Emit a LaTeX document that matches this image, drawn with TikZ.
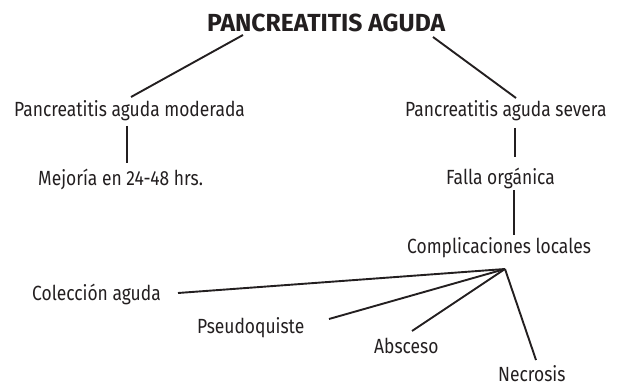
\documentclass[tikz,border=0pt]{standalone}
\usepackage{fontspec}
\setmainfont{Fira Sans}[FakeStretch=0.85]
\newfontfamily\ttlfont{Fira Sans}
\usetikzlibrary{calc}
\definecolor{ink}{HTML}{231F20}
\begin{document}
\begin{tikzpicture}[x=1pt,y=-1pt,
  lbl/.style={inner sep=0pt,anchor=base west,text=ink,font=\fontsize{20.5}{22}\selectfont},
  ttl/.style={inner sep=0pt,anchor=base west,text=ink,font=\ttlfont\fontsize{24.7}{26}\selectfont\bfseries},
  conn/.style={draw=ink,line width=1.9pt}]
\useasboundingbox (0,0) rectangle (618,385);
\node[ttl] (title) at (207,32) {PANCREATITIS AGUDA};
\node[lbl] (mod) at (14,117) {Pancreatitis aguda moderada};
\node[lbl] (mej) at (38,185) {Mejoría en 24-48 hrs.};
\node[lbl] (sev) at (405,117) {Pancreatitis aguda severa};
\node[lbl] (fal) at (446,184) {Falla orgánica};
\node[lbl] (com) at (407,253) {Complicaciones locales};
\node[lbl] (col) at (32,300) {Colección aguda};
\node[lbl] (pse) at (197,333) {Pseudoquiste};
\node[lbl] (abs) at (374,353) {Absceso};
\node[lbl] (nec) at (498,381) {Necrosis};
\coordinate (hub) at ($(com.base west)+(98,16)$);
\draw[conn] ($(title.base west)+(36,3)$) -- ($(mod.base west)+(117,-20)$);
\draw[conn] ($(title.base west)+(226,5)$) -- ($(sev.base west)+(111,-19)$);
\draw[conn] ($(mod.base west)+(113,9)$) -- ($(mej.base west)+(89,-22)$);
\draw[conn] ($(sev.base west)+(110,11)$) -- ($(fal.base west)+(69,-27)$);
\draw[conn] ($(fal.base west)+(68,6)$) -- ($(com.base west)+(107,-18)$);
\draw[conn] (hub) -- ($(col.base west)+(146,-7)$);
\draw[conn] (hub) -- ($(pse.base west)+(132,-14)$);
\draw[conn] (hub) -- ($(abs.base west)+(38,-22)$);
\draw[conn] (hub) -- ($(nec.base west)+(38,-21)$);
\end{tikzpicture}
\end{document}
